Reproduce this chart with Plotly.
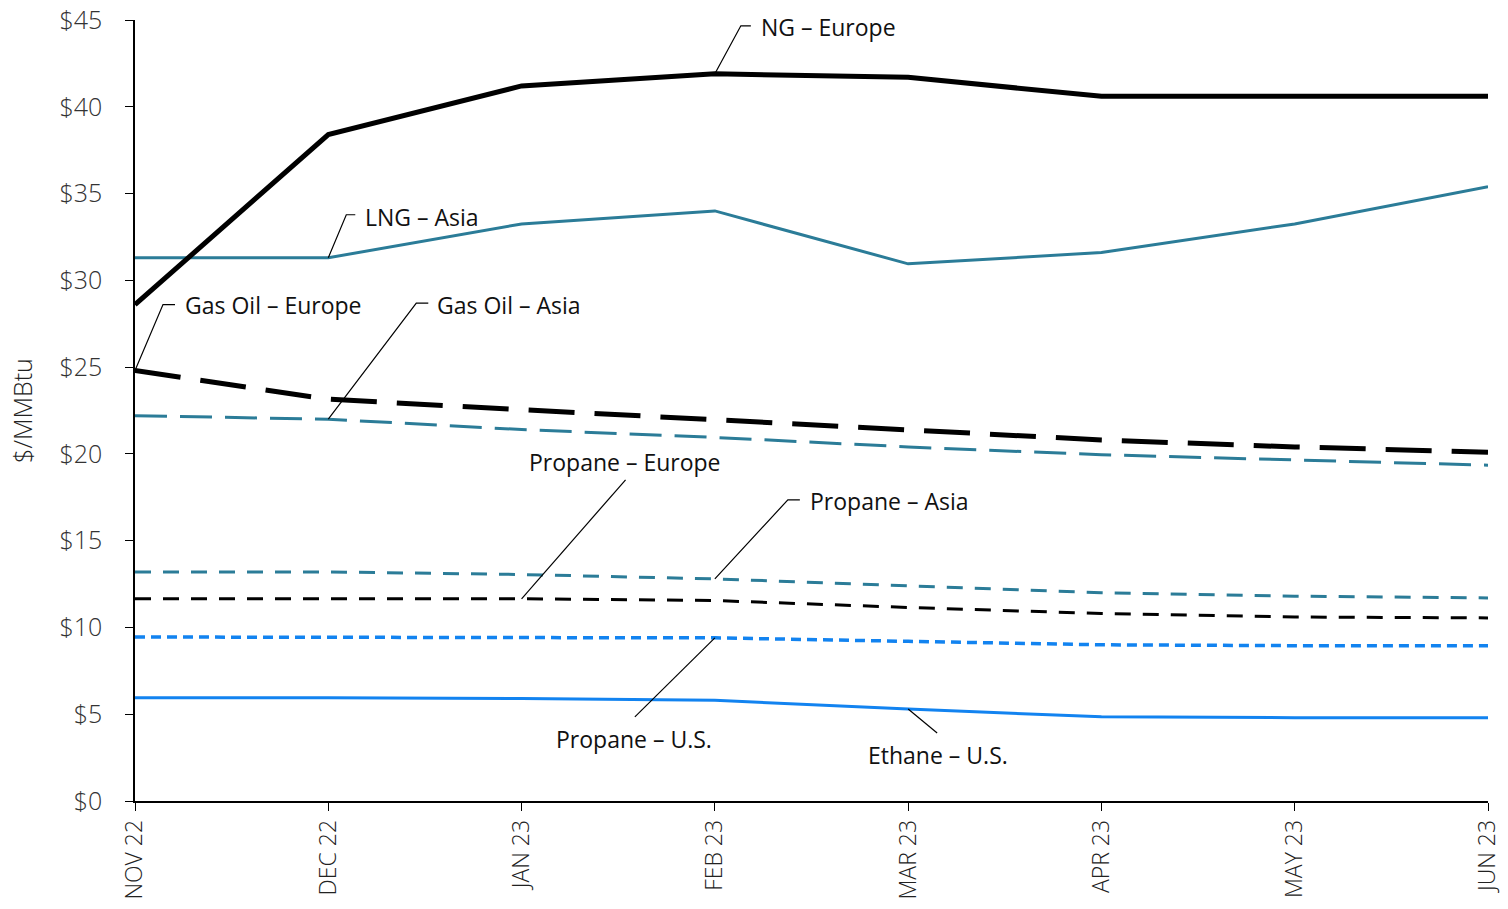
import plotly.graph_objects as go

months = ["NOV 22", "DEC 22", "JAN 23", "FEB 23", "MAR 23", "APR 23", "MAY 23", "JUN 23"]

ng_europe = [28.6, 38.4, 41.2, 41.9, 41.7, 40.6, 40.6, 40.6]
lng_asia = [31.3, 31.3, 33.25, 34.0, 30.95, 31.6, 33.25, 35.4]
gasoil_europe = [24.8, 23.15, 22.55, 21.95, 21.35, 20.8, 20.4, 20.1]
gasoil_asia = [22.2, 22.0, 21.4, 20.95, 20.4, 19.95, 19.65, 19.35]
propane_asia = [13.2, 13.2, 13.05, 12.8, 12.4, 12.0, 11.8, 11.7]
propane_europe = [11.65, 11.65, 11.65, 11.55, 11.15, 10.8, 10.6, 10.55]
propane_us = [9.45, 9.45, 9.45, 9.4, 9.2, 9.0, 8.95, 8.95]
ethane_us = [5.95, 5.95, 5.9, 5.8, 5.3, 4.85, 4.8, 4.8]

y_ticks = [0, 5, 10, 15, 20, 25, 30, 35, 40, 45]
y_tick_text = ["$0", "$5", "$10", "$15", "$20", "$25", "$30", "$35", "$40", "$45"]

TEAL = "#2B7C98"
BLUE = "#1283F0"
BLACK = "#000000"
FONT = "Open Sans"
WEIGHT = 300

x = list(range(len(months)))

series = [
    ("Ethane – U.S.", ethane_us, BLUE, 3, "solid"),
    ("Propane – U.S.", propane_us, BLUE, 3.5, "10px,6px"),
    ("Propane – Europe", propane_europe, BLACK, 3, "16px,12px"),
    ("Propane – Asia", propane_asia, TEAL, 3, "16px,12px"),
    ("Gas Oil – Asia", gasoil_asia, TEAL, 3, "32px,13px"),
    ("Gas Oil – Europe", gasoil_europe, BLACK, 5, "46px,20px"),
    ("LNG – Asia", lng_asia, TEAL, 3, "solid"),
    ("NG – Europe", ng_europe, BLACK, 5, "solid"),
]

fig = go.Figure()
for name, vals, color, width, dash in series:
    fig.add_trace(go.Scatter(
        x=x, y=vals, mode="lines", name=name,
        line=dict(color=color, width=width, dash=dash),
        hoverinfo="name+y", showlegend=False,
    ))

# Leader labels: (text, data values, point index, leader path in pixels
# relative to the point, text offset in pixels, text anchor)
labels = [
    ("NG – Europe", ng_europe, 3, "M0,0 L26,48 L36,48", (44, 47), "left"),
    ("LNG – Asia", lng_asia, 1, "M0,0 L18,43 L27,43", (35, 41), "left"),
    ("Gas Oil – Europe", gasoil_europe, 0, "M0,0 L28,66 L40,66", (48, 66), "left"),
    ("Gas Oil – Asia", gasoil_asia, 1, "M0,0 L88,116 L100,116", (107, 114), "left"),
    ("Propane – Europe", propane_europe, 2, "M0,0 L104,119", (103, 137), "center"),
    ("Propane – Asia", propane_asia, 3, "M0,0 L73,79 L85,79", (93, 78), "left"),
    ("Propane – U.S.", propane_us, 3, "M0,0 L-80,-79", (-81, -101), "center"),
    ("Ethane – U.S.", ethane_us, 4, "M0,0 L29,-24", (30, -46), "center"),
]

for text, vals, idx, path, (dx, dy), anchor in labels:
    fig.add_shape(
        type="path", xref="x", yref="y",
        xsizemode="pixel", ysizemode="pixel",
        xanchor=x[idx], yanchor=vals[idx],
        path=path, line=dict(color=BLACK, width=1.2),
        layer="above",
    )
    fig.add_annotation(
        x=x[idx], y=vals[idx], xref="x", yref="y",
        text=text, showarrow=False,
        xshift=dx, yshift=dy, xanchor=anchor, yanchor="middle",
        font=dict(family=FONT, size=23, color="#111111", weight=WEIGHT + 100),
    )

fig.update_layout(
    width=1508, height=909,
    margin=dict(l=135, r=20, t=20, b=108),
    paper_bgcolor="white", plot_bgcolor="white",
    font=dict(family=FONT, color="#222222"),
)

fig.update_xaxes(
    range=[0, len(months) - 1], automargin=False,
    tickmode="array", tickvals=x, ticktext=months, tickangle=-90,
    ticks="outside", ticklen=8, tickwidth=1.2, tickcolor=BLACK,
    showline=True, linecolor=BLACK, linewidth=1.5,
    showgrid=False, zeroline=False,
    tickfont=dict(family=FONT, size=23, color="#222222", weight=WEIGHT),
)
fig.update_yaxes(
    range=[0, 45], automargin=False,
    tickmode="array", tickvals=y_ticks, ticktext=y_tick_text,
    ticks="outside", ticklen=8, tickwidth=1.2, tickcolor=BLACK,
    showline=True, linecolor=BLACK, linewidth=1.5,
    showgrid=False, zeroline=False,
    tickfont=dict(family=FONT, size=25, color="#333333", weight=WEIGHT),
    ticklabelstandoff=18,
    title=dict(text="$/MMBtu", font=dict(family=FONT, size=25, color="#222222", weight=WEIGHT), standoff=20),
)

fig.write_html("out.html")
